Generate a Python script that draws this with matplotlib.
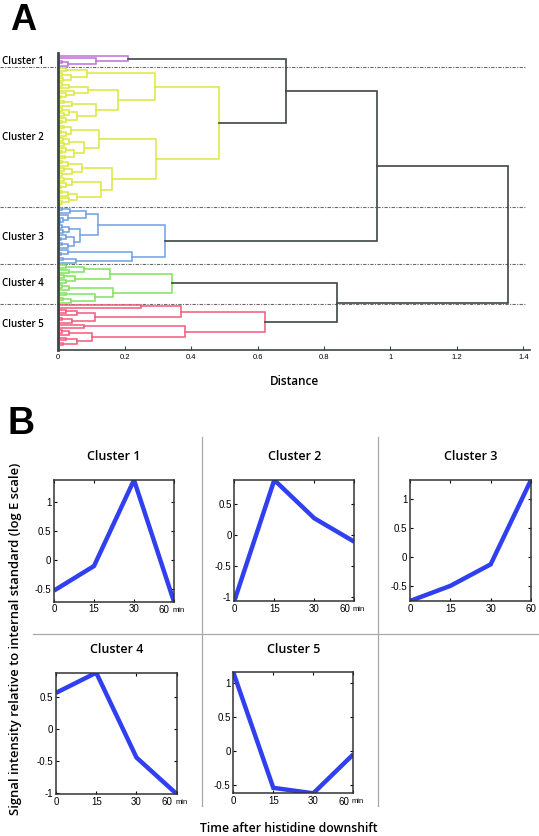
import matplotlib
matplotlib.use('Agg')
import matplotlib.pyplot as plt
from matplotlib.ticker import FixedLocator, MultipleLocator, FuncFormatter
import matplotlib.transforms as mtransforms

# ---------------- data: panel A (dendrogram) ----------------
# node = (merge distance, left child, right child); leaf = 0
cluster_names = ['Cluster 1', 'Cluster 2', 'Cluster 3', 'Cluster 4', 'Cluster 5']
cluster_colors = ['#c070d8', '#dde83c', '#6f9fe2', '#7fe35a', '#f5587a']

c1_tree = (0.21, 0, (0.115, 0, (0.03, (0.012, 0, 0), 0)))

c2_u1 = (0.086, (0.022, 0, 0), (0.038, (0.012, 0, 0), (0.014, 0, 0)))
c2_u2a = (0.09, (0.033, (0.012, 0, 0), 0), (0.048, 0, (0.022, 0, (0.009, 0, 0))))
c2_u2b = (0.114, (0.043, (0.016, 0, 0), 0),
          (0.058, (0.033, (0.012, 0, 0), (0.016, 0, 0)), (0.022, 0, (0.011, 0, 0))))
c2_u = (0.292, c2_u1, (0.179, c2_u2a, c2_u2b))
c2_l1a = (0.04, (0.017, 0, 0), (0.022, (0.009, 0, 0), 0))
c2_l1b = (0.078, (0.033, (0.013, 0, 0), (0.017, 0, 0)),
          (0.048, (0.022, 0, (0.011, 0, 0)), (0.02, 0, 0)))
c2_l2a = (0.073, (0.028, (0.011, 0, 0), 0), (0.043, (0.017, 0, 0), (0.011, 0, 0)))
c2_l2b = (0.129, (0.043, (0.017, 0, 0), (0.022, 0, (0.009, 0, 0))),
          (0.056, (0.028, (0.011, 0, 0), 0), (0.033, 0, (0.011, 0, (0.006, 0, 0)))))
c2_l = (0.295, (0.124, c2_l1a, c2_l1b), (0.163, c2_l2a, c2_l2b))
c2_tree = (0.484, c2_u, c2_l)

c3_a = (0.083, (0.036, (0.011, 0, 0), 0), (0.031, 0, (0.013, 0, (0.006, 0, 0))))
c3_b = (0.066, (0.033, (0.011, 0, 0), (0.013, 0, 0)),
        (0.048, (0.022, 0, (0.009, 0, 0)), (0.028, (0.011, 0, 0), 0)))
c3_low = (0.222, (0.028, 0, (0.009, 0, 0)), (0.053, (0.013, 0, 0), 0))
c3_tree = (0.321, (0.121, c3_a, c3_b), c3_low)

c4_up = (0.155, (0.078, (0.022, 0, 0), (0.033, 0, 0)), (0.05, (0.017, 0, 0), (0.022, 0, 0)))
c4_low = (0.164, (0.033, (0.011, 0, 0), 0), (0.112, (0.022, 0, 0), (0.038, (0.013, 0, 0), 0)))
c4_tree = (0.344, c4_up, c4_low)

c5_up = (0.369, (0.25, 0, 0), (0.11, (0.058, (0.022, 0, 0), 0), (0.041, (0.011, 0, 0), 0)))
c5_low = (0.381, (0.078, 0, 0),
          (0.103, (0.033, (0.011, 0, 0), 0), (0.058, (0.022, 0, 0), (0.013, 0, 0))))
c5_tree = (0.622, c5_up, c5_low)

cluster_trees = [c1_tree, c2_tree, c3_tree, c4_tree, c5_tree]
# top-level merges between clusters (indices into cluster_trees)
top_tree = (1.353, (0.961, (0.687, 0, 1), 2), (0.838, 3, 4))
top_color = '#3d4646'

dist_ticks = [0, 0.2, 0.4, 0.6, 0.8, 1, 1.2, 1.4]

# ---------------- data: panel B (cluster profiles) ----------------
time_labels = ['0', '15', '30', '60']
profile_c1 = [-0.52, -0.10, 1.37, -0.71]
profile_c2 = [-1.07, 0.89, 0.27, -0.11]
profile_c3 = [-0.75, -0.49, -0.12, 1.33]
profile_c4 = [0.56, 0.875, -0.45, -1.02]
profile_c5 = [1.15, -0.54, -0.62, -0.05]
profiles = [profile_c1, profile_c2, profile_c3, profile_c4, profile_c5]

# ---------------- figure ----------------
W, H = 539, 836
fig = plt.figure(figsize=(W / 100, H / 100), dpi=100)
FONT = ['Open Sans', 'DejaVu Sans']
TFONT = ['Liberation Sans', 'DejaVu Sans']


def fr(x0, y0, x1, y1):
    return [x0 / W, 1 - y1 / H, (x1 - x0) / W, (y1 - y0) / H]


# ---------- Panel A ----------
axA = fig.add_axes(fr(58.2, 53, 530, 350))
leaf_counter = [0]
cluster_ranges = []


def draw_sub(node, color):
    if node == 0:
        y = leaf_counter[0]
        leaf_counter[0] += 1
        return 0.0, float(y)
    h, a, b = node
    ha, ya = draw_sub(a, color)
    hb, yb = draw_sub(b, color)
    axA.plot([ha, h, h, hb], [ya, ya, yb, yb], color=color, lw=1.1,
             solid_joinstyle='miter', zorder=2)
    return h, (ya + yb) / 2


def draw_top(node):
    if isinstance(node, int):
        start = leaf_counter[0]
        res = draw_sub(cluster_trees[node], cluster_colors[node])
        cluster_ranges.append((start, leaf_counter[0] - 1))
        return res
    h, a, b = node
    ha, ya = draw_top(a)
    hb, yb = draw_top(b)
    axA.plot([ha, h, h, hb], [ya, ya, yb, yb], color=top_color, lw=1.2,
             solid_joinstyle='miter', zorder=2)
    return h, (ya + yb) / 2


draw_top(top_tree)
n_leaves = leaf_counter[0]
axA.set_xlim(0, 1.42)
axA.set_ylim(n_leaves - 1 + 2.0, -1.2)

# cluster separators and labels
for i in range(len(cluster_ranges) - 1):
    yb = (cluster_ranges[i][1] + cluster_ranges[i + 1][0]) / 2
    axA.plot([-0.176, 1.405], [yb, yb], color='#6a6a6a', lw=0.8,
             ls=(0, (3, 1.2, 1, 1.2)), clip_on=False, zorder=1)
label_y = [61, 138, 238, 284, 325]
for name, ly in zip(cluster_names, label_y):
    fig.text(2 / W, 1 - ly / H, name, fontsize=7, family=FONT, fontweight='semibold',
             ha='left', va='center')

for s in ['top', 'right']:
    axA.spines[s].set_visible(False)
axA.spines['left'].set_color('#3d4646')
axA.spines['left'].set_linewidth(2)
axA.spines['bottom'].set_color('#3d4646')
axA.spines['bottom'].set_linewidth(1.2)
axA.set_yticks([])
axA.set_xticks(dist_ticks)
axA.set_xticklabels([f'{t:g}' for t in dist_ticks], fontsize=5.5, family=TFONT)
axA.tick_params(axis='x', direction='in', length=3, width=0.8, color='#3d4646', pad=3)
axA.set_xlabel('Distance', fontsize=8.5, family=FONT, fontweight='semibold', labelpad=10)

fig.text(10 / W, 1 - 30 / H, 'A', fontsize=26, family=TFONT, fontweight='bold',
         ha='left', va='baseline')
fig.text(7 / W, 1 - 434 / H, 'B', fontsize=27, family=TFONT, fontweight='bold',
         ha='left', va='baseline')

# ---------- Panel B ----------
boxes = [(54, 480, 174, 601.7), (234.3, 480, 354.3, 601), (410, 480, 531, 601),
         (56, 672.7, 176.7, 794), (233.3, 672.3, 353.3, 793.3)]
show_min = [True, True, False, True, True]
x_pos = list(range(len(time_labels)))

for k, (box, prof) in enumerate(zip(boxes, profiles)):
    ax = fig.add_axes(fr(*box))
    ax.plot(x_pos, prof, color='#3040ee', lw=3.2, solid_joinstyle='miter',
            solid_capstyle='butt', clip_on=True)
    ax.set_xlim(0, 3)
    ax.set_ylim(min(prof), max(prof))
    ax.yaxis.set_major_locator(MultipleLocator(0.5))
    ax.yaxis.set_major_formatter(FuncFormatter(lambda v, p: f'{v:g}'))
    ax.xaxis.set_major_locator(FixedLocator(x_pos))
    labels = list(time_labels)
    if show_min[k]:
        labels[-1] = ''
    ax.set_xticklabels(labels)
    for lab in ax.get_xticklabels() + ax.get_yticklabels():
        lab.set_family(TFONT)
        lab.set_fontsize(7)
    ax.tick_params(direction='in', length=2.5, width=0.8, top=True, right=True, pad=2)
    for s in ax.spines.values():
        s.set_linewidth(1.1)
        s.set_color('#333333')
    if show_min[k]:
        trans = mtransforms.blended_transform_factory(ax.transData, ax.transAxes)
        ax.annotate(time_labels[-1], xy=(3, 0), xycoords=trans, xytext=(-3, -2.5),
                    textcoords='offset points', ha='right', va='top',
                    fontsize=7, family=TFONT, annotation_clip=False)
        ax.annotate('min', xy=(3, 0), xycoords=trans, xytext=(-1, -3.5),
                    textcoords='offset points', ha='left', va='top',
                    fontsize=5.5, family=TFONT, annotation_clip=False)
    cx = (box[0] + box[2]) / 2
    fig.text(cx / W, 1 - (box[1] - 23) / H, cluster_names[k], fontsize=9, family=FONT,
             fontweight='semibold', ha='center', va='center')

# separators in panel B
sep_kw = dict(color='#a8a8a8', lw=0.9)
fig.add_artist(plt.Line2D([202 / W, 202 / W], [1 - 437 / H, 1 - 806 / H], **sep_kw))
fig.add_artist(plt.Line2D([378 / W, 378 / W], [1 - 437 / H, 1 - 806 / H], **sep_kw))
fig.add_artist(plt.Line2D([33 / W, 1.0], [1 - 634 / H, 1 - 634 / H], **sep_kw))

fig.text(16 / W, 1 - 638.5 / H, 'Signal intensity relative to internal standard (log E scale)',
         rotation=90, fontsize=9.35, family=FONT, fontweight='semibold', ha='center', va='center')
fig.text(289 / W, 1 - 828 / H, 'Time after histidine downshift', fontsize=8.8, family=FONT,
         fontweight='semibold', ha='center', va='center')

fig.savefig('out.png', dpi=100)
